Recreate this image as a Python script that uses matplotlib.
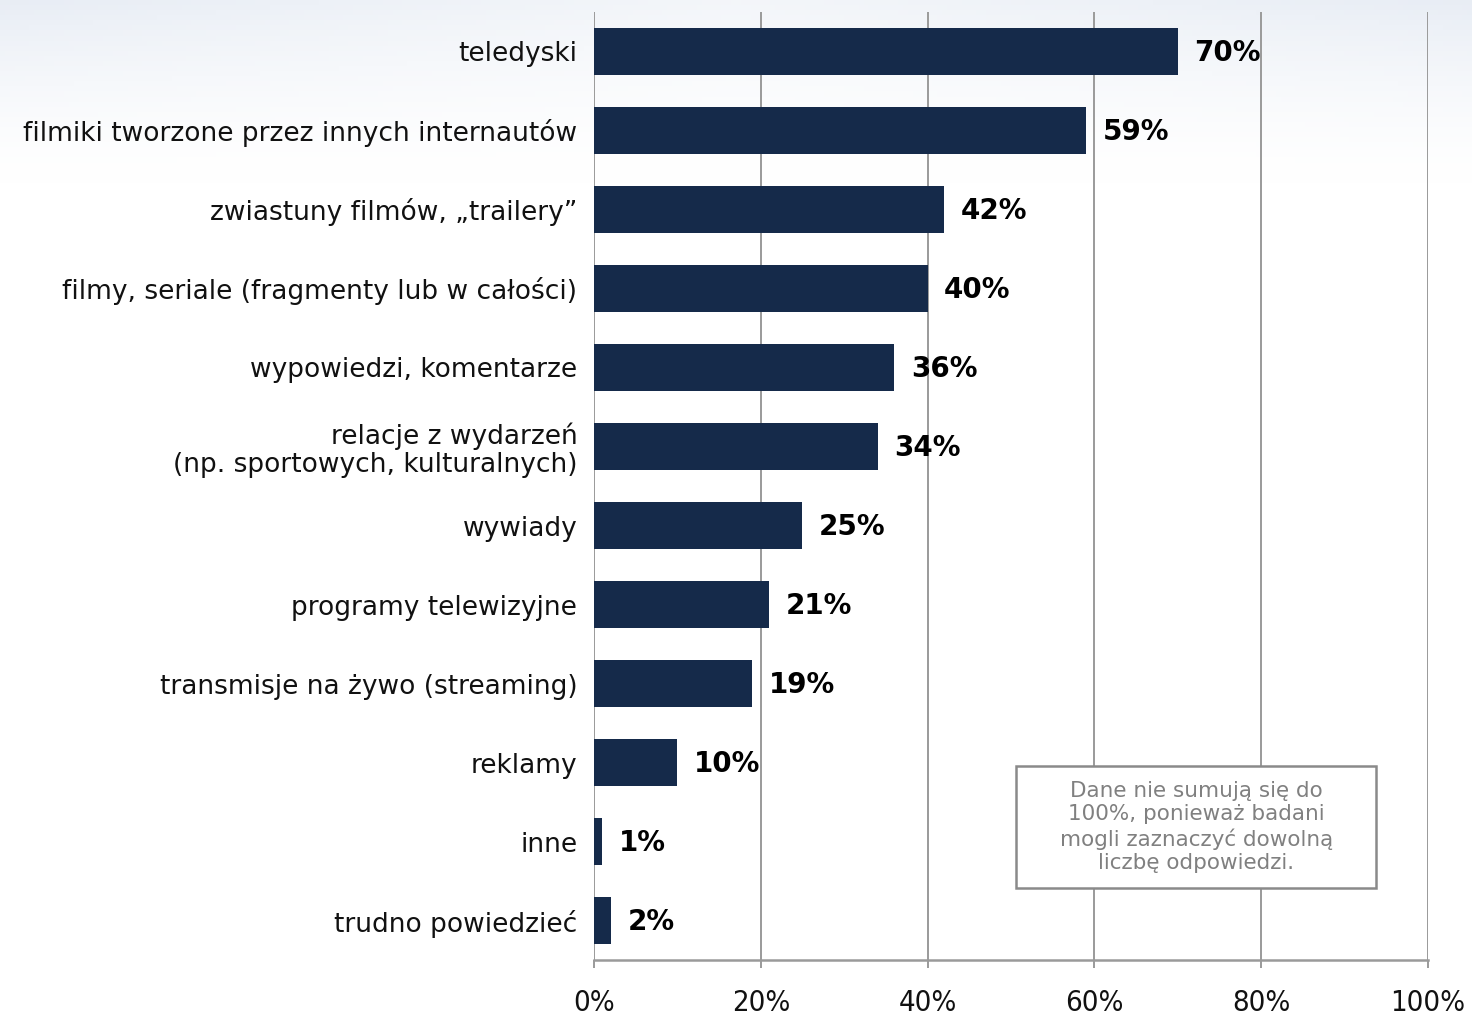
import numpy as np
import matplotlib.pyplot as plt
from matplotlib.patches import Rectangle

categories = [
    "teledyski",
    "filmiki tworzone przez innych internautów",
    "zwiastuny filmów, „trailery”",
    "filmy, seriale (fragmenty lub w całości)",
    "wypowiedzi, komentarze",
    "relacje z wydarzeń\n(np. sportowych, kulturalnych)",
    "wywiady",
    "programy telewizyjne",
    "transmisje na żywo (streaming)",
    "reklamy",
    "inne",
    "trudno powiedzieć",
]
values = [70, 59, 42, 40, 36, 34, 25, 21, 19, 10, 1, 2]
xticks = [0, 20, 40, 60, 80, 100]
note = "Dane nie sumują się do\n100%, ponieważ badani\nmogli zaznaczyć dowolną\nliczbę odpowiedzi."

bar_color = "#152a4a"
grid_color = "#9a9a9a"

fig = plt.figure(figsize=(14.72, 10.16), dpi=100)

# faint blue-grey wash behind the top of the page
bg = fig.add_axes([0, 0, 1, 1], zorder=-10)
yy = np.linspace(0, 1, 200)[:, None]
xx = np.linspace(0, 1, 300)[None, :]
fade = np.clip((yy - 0.82) / 0.18, 0, 1) ** 1.5 * (0.5 + 0.5 * np.abs(xx - 0.5) * 2)
img = np.ones((200, 300, 3))
tint = np.array([0.91, 0.93, 0.96])
img = img * (1 - fade[..., None]) + tint * fade[..., None]
bg.imshow(img, origin="lower", extent=[0, 1, 0, 1], aspect="auto")
bg.axis("off")

ax = fig.add_axes([0.4035, 0.0551, 0.5666, 0.9331])
ax.patch.set_alpha(0)
y = np.arange(len(categories))
ax.barh(y, values, height=0.6, color=bar_color, zorder=2)

ax.set_xlim(0, 100)
ax.set_ylim(len(categories) - 0.5, -0.5)
ax.set_yticks(y)
ax.set_yticklabels(categories, fontsize=19, color="#111111", linespacing=1.1)
ax.tick_params(axis="y", length=0, pad=12)

ax.set_xticks(xticks)
ax.set_xticklabels([f"{t}%" for t in xticks], fontsize=21, color="#111111",
                   fontstretch="condensed")
ax.tick_params(axis="x", length=6, width=1.4, color=grid_color, pad=15)

ax.xaxis.grid(True, color=grid_color, linewidth=1.4, zorder=0)
ax.set_axisbelow(True)
for side in ["top", "right", "left"]:
    ax.spines[side].set_visible(False)
ax.spines["bottom"].set_color(grid_color)
ax.spines["bottom"].set_linewidth(1.8)

for yi, v in zip(y, values):
    ax.annotate(f"{v}%", (v, yi), xytext=(12, -1), textcoords="offset points",
                ha="left", va="center", fontsize=20, fontweight="bold",
                color="black", zorder=3)

# footnote box
ax.add_patch(Rectangle((0.506, 0.076), 0.4317, 0.1287, transform=ax.transAxes,
                       facecolor="white", edgecolor="#8a8a8a", linewidth=1.8,
                       zorder=4))
ax.text(0.722, 0.1403, note, transform=ax.transAxes, ha="center", va="center",
        fontsize=15.5, color="#808080", linespacing=1.22, zorder=5)

fig.savefig("out.png", dpi=100)
